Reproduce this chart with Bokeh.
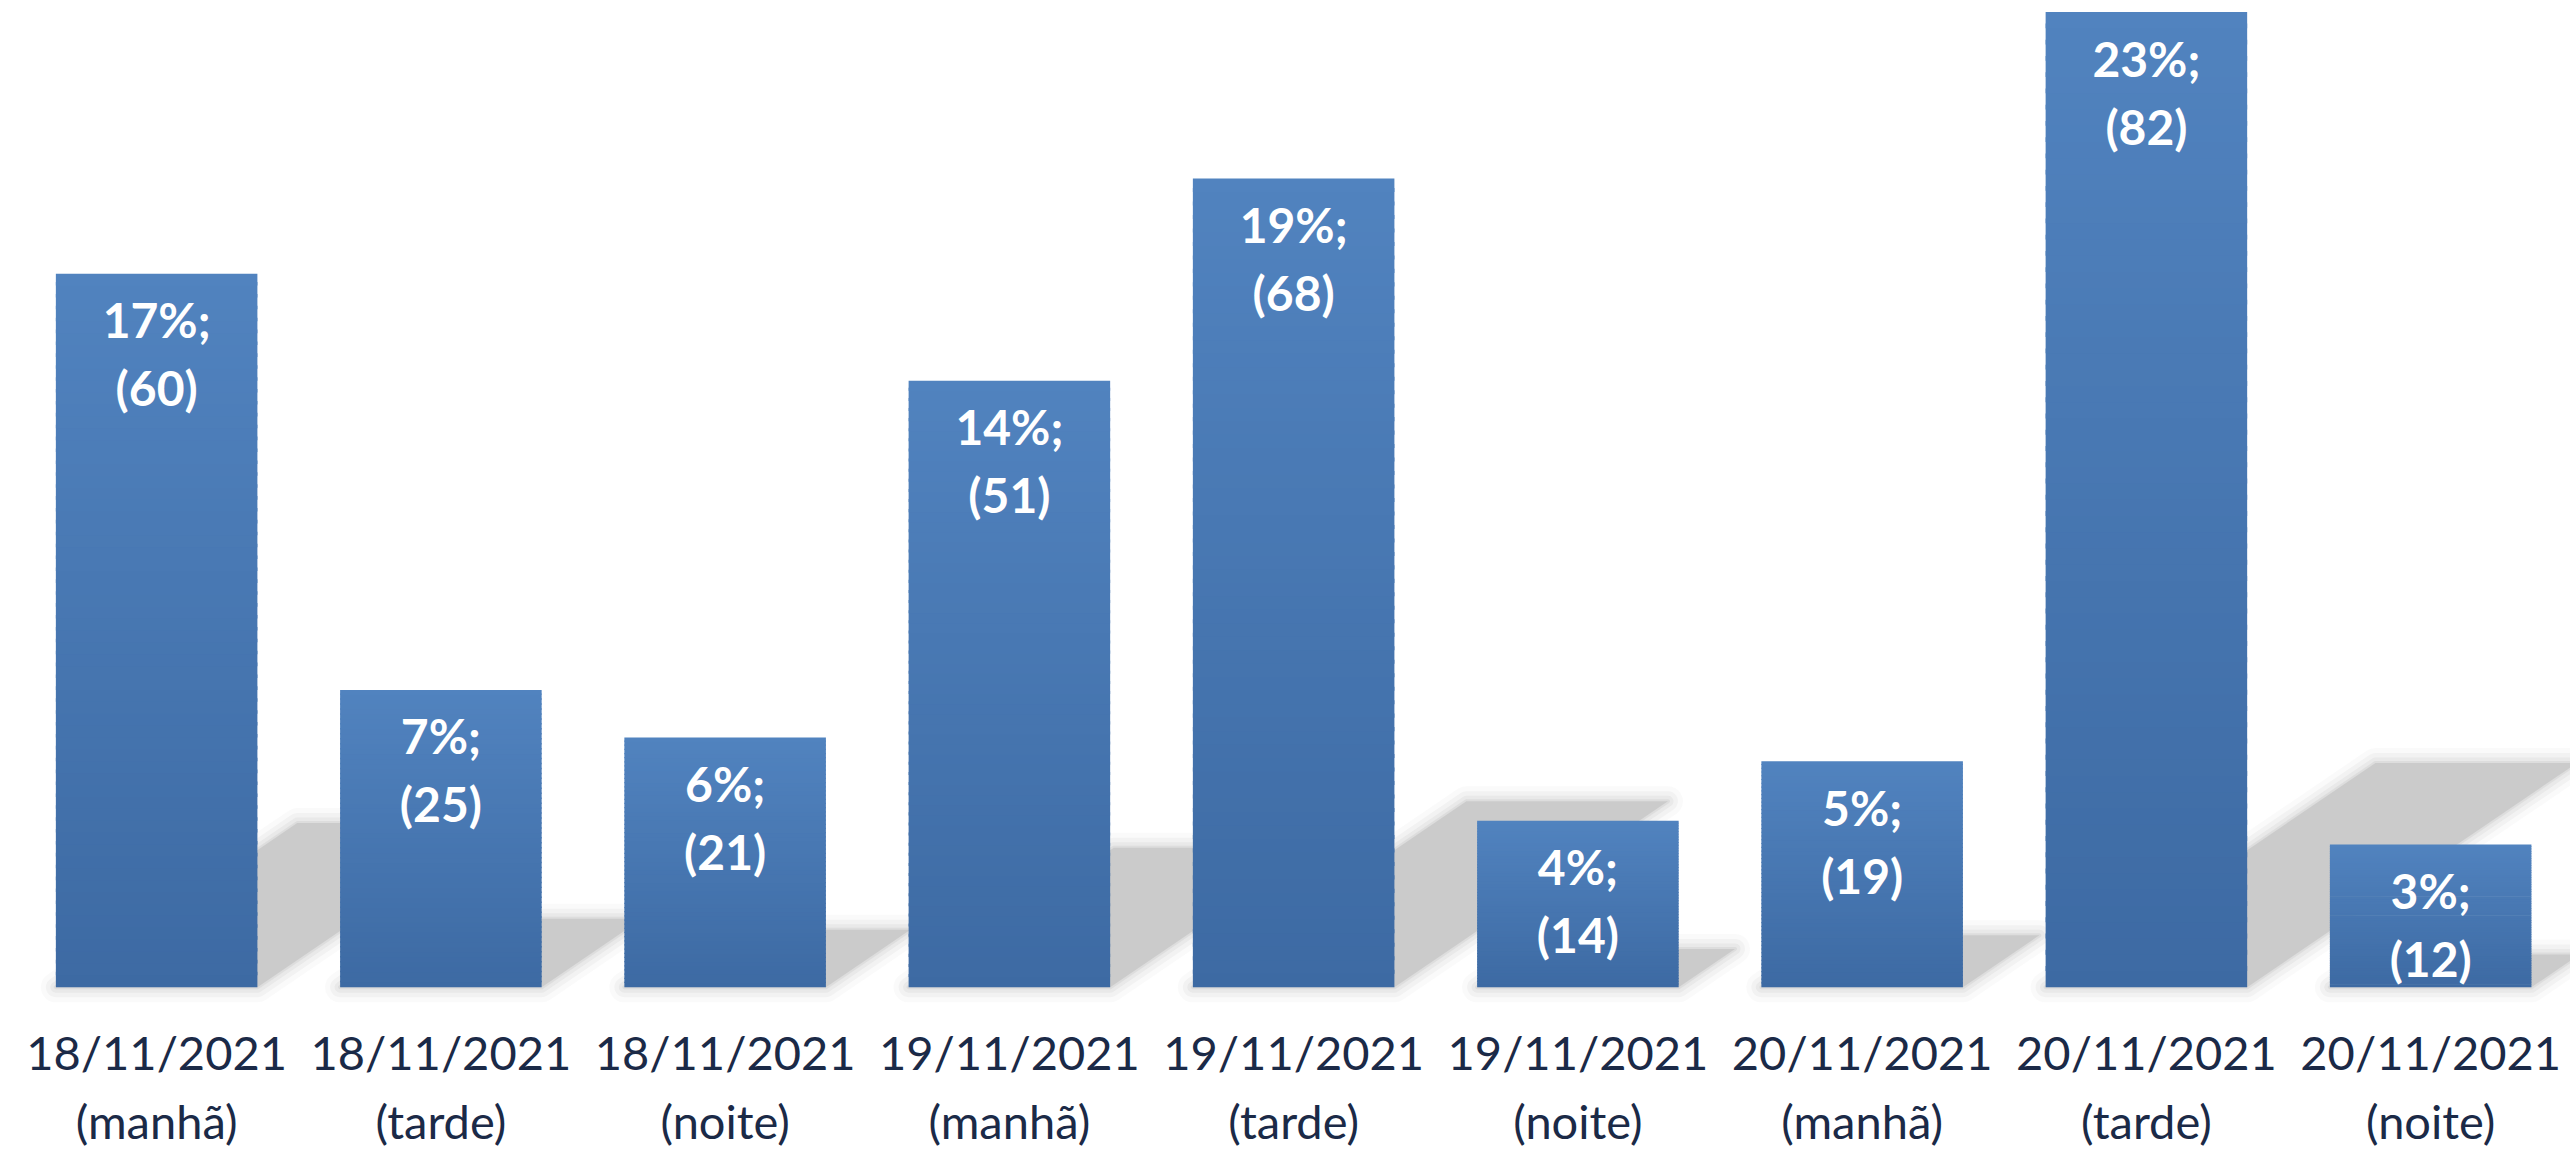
from bokeh.plotting import figure
from bokeh.models import Range1d, ColumnDataSource
from bokeh.core.properties import value
from bokeh.embed import file_html
from bokeh.resources import INLINE

# ---- data ----
dates = ["18/11/2021", "18/11/2021", "18/11/2021",
         "19/11/2021", "19/11/2021", "19/11/2021",
         "20/11/2021", "20/11/2021", "20/11/2021"]
periods = ["(manhã)", "(tarde)", "(noite)",
           "(manhã)", "(tarde)", "(noite)",
           "(manhã)", "(tarde)", "(noite)"]
counts = [60, 25, 21, 51, 68, 14, 19, 82, 12]
percents = [17, 7, 6, 14, 19, 4, 5, 23, 3]

# ---- layout / style ----
FRAME_W, FRAME_H = 2556, 1142
X0, X1 = -0.5, 8.492
Y0, Y1 = -13.73, 82.3
BAR_W = 0.709
px_x = FRAME_W / (X1 - X0)
px_y = FRAME_H / (Y1 - Y0)
SHADOW_RATIO = 0.23
SHADOW_SLOPE = 0.68
TOP_COL = (81, 131, 191)
BOT_COL = (61, 106, 163)
FONT = "Lato"

p = figure(frame_width=FRAME_W, frame_height=FRAME_H,
           x_range=Range1d(X0, X1), y_range=Range1d(Y0, Y1),
           output_backend="svg", toolbar_location=None,
           min_border_left=14, min_border_right=0,
           min_border_top=8, min_border_bottom=0)
p.axis.visible = False
p.grid.visible = False
p.outline_line_color = None
p.background_fill_color = "white"
p.border_fill_color = "white"

xs_idx = list(range(len(counts)))

# ---- perspective shadows ----
sh_xs, sh_ys = [], []
for i, v in zip(xs_idx, counts):
    h = SHADOW_RATIO * v
    dx = h * px_y / SHADOW_SLOPE / px_x
    l, r = i - BAR_W / 2, i + BAR_W / 2
    sh_xs.append([l, r, r + dx, l + dx])
    sh_ys.append([0, 0, h, h])
shsrc = ColumnDataSource(dict(xs=sh_xs, ys=sh_ys))
for lw, la in [(30, 0.09), (20, 0.14), (11, 0.22), (4, 0.35)]:
    p.patches("xs", "ys", source=shsrc, fill_alpha=0, line_color="#c8c8c8",
              line_width=lw, line_alpha=la, line_join="round")
p.patches("xs", "ys", source=shsrc, fill_color="#cbcbcb", line_color=None)

# ---- gradient bars ----
N = 60
bx, bb, bt, bc = [], [], [], []
for i, v in zip(xs_idx, counts):
    for k in range(N):
        t = (k + 0.5) / N
        c = tuple(int(round(BOT_COL[j] + (TOP_COL[j] - BOT_COL[j]) * t)) for j in range(3))
        bx.append(i)
        bb.append(v * k / N)
        bt.append(min(v, v * (k + 1.3) / N))
        bc.append("#%02x%02x%02x" % c)
p.vbar(x=bx, bottom=bb, top=bt, width=BAR_W, fill_color=bc, line_color=None)

# ---- bar labels ----
lab = ColumnDataSource(dict(
    x=xs_idx, y=counts,
    pct=[f"{q}%;" for q in percents],
    cnt=[f"({c})" for c in counts]))
p.text("x", "y", text="pct", source=lab, y_offset=46,
       text_font=value(FONT), text_font_style="bold", text_font_size="48px",
       text_color="white", text_align="center", text_baseline="middle")
p.text("x", "y", text="cnt", source=lab, y_offset=114,
       text_font=value(FONT), text_font_style="bold", text_font_size="48px",
       text_color="white", text_align="center", text_baseline="middle")

# ---- category labels ----
cat = ColumnDataSource(dict(x=xs_idx, y=[0] * len(xs_idx), d=dates, per=periods))
p.text("x", "y", text="d", source=cat, y_offset=65,
       text_font=value(FONT), text_font_size="47px",
       text_color="#1b2a47", text_align="center", text_baseline="middle")
p.text("x", "y", text="per", source=cat, y_offset=134,
       text_font=value(FONT), text_font_size="47px",
       text_color="#1b2a47", text_align="center", text_baseline="middle")

open("out.html", "w").write(file_html(p, INLINE))
